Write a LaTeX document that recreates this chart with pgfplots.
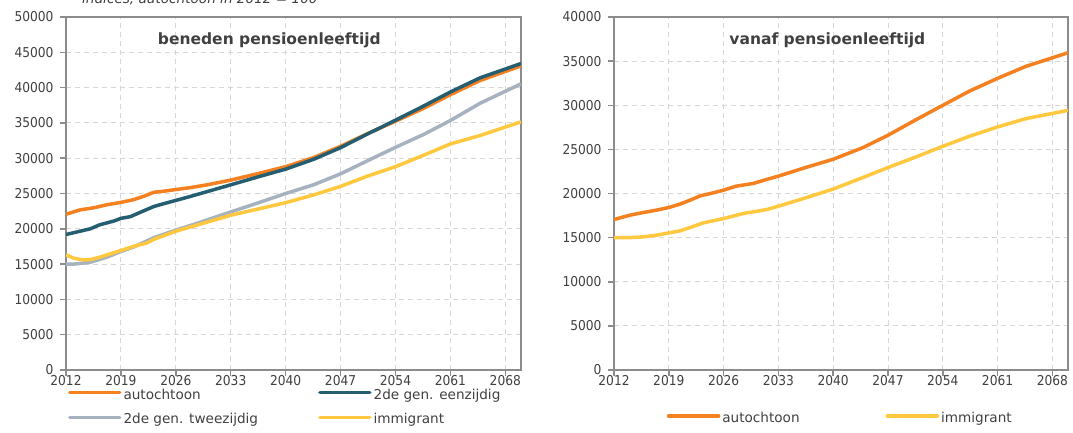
\documentclass[border=0pt]{standalone}
\usepackage{fontspec}
\setmainfont{DejaVu Sans}
\newfontfamily\tickfont[FakeStretch=0.9]{DejaVu Sans}
\usepackage{pgfplots}
\pgfplotsset{compat=1.18}
\definecolor{cOrange}{RGB}{245,128,32}
\definecolor{cTeal}{RGB}{36,94,112}
\definecolor{cGrey}{RGB}{166,178,192}
\definecolor{cYellow}{RGB}{255,200,62}
\definecolor{cText}{RGB}{64,64,64}
\definecolor{cAxis}{RGB}{140,140,140}
\definecolor{cGrid}{RGB}{215,215,215}

\pgfplotsset{
  panel/.style={
    scale only axis, width=455pt, height=353pt,
    anchor=south west,
    xmin=2012, xmax=2070, ymin=0,
    xtick={2012,2019,...,2068},
    scaled ticks=false,
    tick align=outside, xtick pos=bottom, ytick pos=left,
    major tick length=6pt,
    tick style={cAxis, line width=1.5pt},
    axis line style={draw=cAxis, line width=2.5pt},
    grid=major,
    grid style={draw=cGrid, line width=0.9pt, dash pattern=on 5pt off 4pt},
    ticklabel style={font=\tickfont\fontsize{13.6}{15}\selectfont, text=cText},
    xticklabel style={yshift=4pt},
    yticklabel style={xshift=-3pt},
    /pgf/number format/1000 sep={},
    /pgf/number format/assume math mode=true,
    legend cell align=left,
    legend style={draw=none, fill=none, inner sep=0pt,
      font=\fontsize{13.6}{15}\selectfont, text=cText},
    legend image code/.code={\draw[##1, line width=3.5pt, line cap=round] (0pt,2pt) -- (50pt,2pt);},
    every axis plot/.append style={line width=3.5pt, mark=none},
  }
}

\begin{document}
\begin{tikzpicture}[x=1pt,y=1pt]

\node[anchor=base west, font=\fontsize{13.6}{15}\selectfont\itshape, text=cText, inner sep=0pt] at (82,428) {indices, autochtoon in 2012 = 100};

\begin{axis}[panel, at={(66pt,62pt)}, ymax=50000,
  ytick={0,5000,...,50000},
  legend columns=2,
  legend style={at={(rel axis cs:0.004,-0.047)}, anchor=north west,
    row sep=9pt,
    /tikz/every even column/.append style={column sep=58pt}}]
\addplot[cOrange] coordinates {
(2012,22060) (2013.8,22680) (2015.5,22970) (2017.2,23400) (2019,23740)
(2020.6,24120) (2021.9,24600) (2023.2,25170) (2024.4,25320) (2026,25560)
(2027.9,25840) (2030,26230) (2033,26900) (2036.4,27800) (2040,28800)
(2043.6,30100) (2047,31680) (2050.4,33460) (2054,35240) (2057.6,37070)
(2061,39000) (2064.8,41010) (2070,43080)};
\addlegendentry{autochtoon}
\addplot[cTeal] coordinates {
(2012,19190) (2013.8,19660) (2015.1,20000) (2016.3,20570) (2018.1,21100)
(2019,21480) (2020.2,21720) (2021.5,22350) (2023.2,23160) (2024.4,23540)
(2026,24020) (2027.9,24600) (2030,25270) (2033,26230) (2036.4,27330)
(2040,28450) (2043.6,29860) (2047,31490) (2050.4,33410) (2054,35380)
(2057.6,37400) (2061,39380) (2064.8,41390) (2070,43410)};
\addlegendentry{2de gen. eenzijdig}
\addplot[cGrey] coordinates {
(2012,15000) (2013,15000) (2015.1,15260) (2017.2,15980) (2019,16790)
(2020.6,17410) (2023.2,18750) (2026,19810) (2028.7,20770) (2033,22390)
(2036.4,23640) (2040,25000) (2043.6,26250) (2047,27790) (2050.4,29620)
(2054,31540) (2057.6,33370) (2061,35340) (2064.8,37790) (2070,40530)};
\addlegendentry{2de gen. tweezijdig}
\addplot[cYellow] coordinates {
(2012,16310) (2013,15830) (2014.2,15590) (2015.1,15640) (2016.3,15980)
(2019,16930) (2020.6,17510) (2022.3,17990) (2023.2,18510) (2026,19660)
(2028.7,20530) (2033,21920) (2036.4,22780) (2040,23700) (2043.6,24810)
(2047,26010) (2050.4,27450) (2054,28800) (2057.6,30430) (2061,32020)
(2064.8,33220) (2070,35140)};
\addlegendentry{immigrant}
\node[font=\fontsize{15.5}{17}\selectfont\bfseries, text=cText] at (rel axis cs:0.447,0.935) {beneden pensioenleeftijd};
\end{axis}

\begin{axis}[panel, at={(614pt,62pt)}, width=454pt, ymax=40000,
  ytick={0,5000,...,40000},
  legend columns=2,
  legend style={at={(rel axis cs:0.116,-0.113)}, anchor=north west,
    /tikz/every even column/.append style={column sep=84pt}}]
\addplot[cOrange] coordinates {
(2012,17050) (2014,17540) (2015.7,17840) (2017.4,18110) (2019,18410)
(2020.4,18790) (2021.7,19240) (2023,19730) (2024.7,20080) (2026,20380)
(2027.6,20830) (2029.8,21140) (2031.5,21590) (2033,21970) (2036.5,22950)
(2040,23880) (2043.8,25200) (2047,26600) (2050.6,28370) (2054,29990)
(2057.4,31600) (2061,33050) (2064.6,34400) (2070,35950)};
\addlegendentry{autochtoon}
\addplot[cYellow] coordinates {
(2012,15000) (2014,15000) (2015.7,15080) (2017.4,15270) (2019,15530)
(2020.4,15760) (2021.7,16140) (2023.4,16670) (2026,17160) (2028.5,17730)
(2031.5,18180) (2033,18560) (2036.5,19510) (2040,20500) (2043.8,21810)
(2047,22940) (2050.6,24150) (2054,25350) (2057.4,26480) (2061,27540)
(2064.6,28480) (2070,29420)};
\addlegendentry{immigrant}
\node[font=\fontsize{15.5}{17}\selectfont\bfseries, text=cText] at (rel axis cs:0.470,0.935) {vanaf pensioenleeftijd};
\end{axis}

\pgfresetboundingbox
\useasboundingbox (0,0) rectangle (1073,432);
\end{tikzpicture}
\end{document}
